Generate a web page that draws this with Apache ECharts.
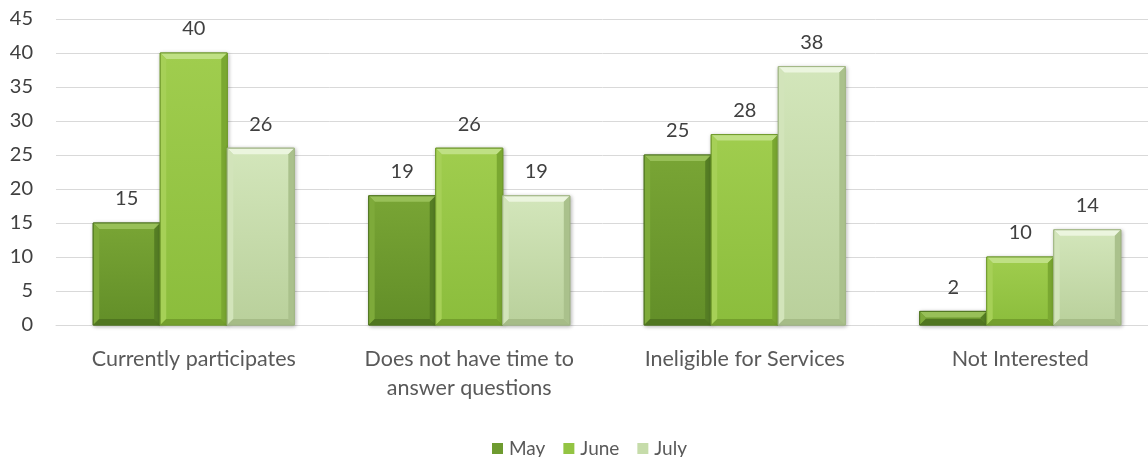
<!DOCTYPE html>
<html><head><meta charset="utf-8">
<script src="https://cdn.jsdelivr.net/npm/echarts@6/dist/echarts.min.js"></script>
<style>html,body{margin:0;padding:0;background:#fff}#c{width:1148px;height:457px}</style>
</head><body><div id="c"></div>
<script>
const categories = ['Currently participates', 'Does not have time to\nanswer questions', 'Ineligible for Services', 'Not Interested'];
const seriesNames = ['May', 'June', 'July'];
const mayValues = [15, 19, 25, 2];
const juneValues = [40, 26, 28, 10];
const julyValues = [26, 19, 38, 14];
const yTicks = {min: 0, max: 45, interval: 5};

const FONT = 'Lato, "Open Sans", sans-serif';
const dataSets = [mayValues, juneValues, julyValues];
const palettes = [
  {face: '#6e9b30', faceTop: '#79a535', faceBot: '#628e28', top: '#98c058', left: '#7eaa3a', right: '#557e24', bottom: '#507620', border: '#4f7420'},
  {face: '#93c443', faceTop: '#a0cd4e', faceBot: '#8bbd3c', top: '#bfe084', left: '#a6d057', right: '#7aa831', bottom: '#749f2d', border: '#6f992c'},
  {face: '#c6dcaa', faceTop: '#d3e6bb', faceBot: '#b9d09b', top: '#ebf5de', left: '#d2e4ba', right: '#aac18c', bottom: '#a6bc87', border: '#a0b684'}
];

function makeRender(i) {
  const p = palettes[i];
  return function (params, api) {
    const cat = api.value(0), val = api.value(1);
    const base = api.coord([cat, 0]);
    const topPt = api.coord([cat, val]);
    const band = api.size([1, 0])[0];
    const bw = band * 0.73 / 3;
    const x = base[0] - 1.5 * bw + i * bw;
    const y = topPt[1];
    const h = base[1] - topPt[1];
    const w = bw;
    const b = Math.min(6, h / 2, w / 2);
    const children = [
      {type: 'rect', shape: {x: x, y: y, width: w, height: h},
        style: {fill: new echarts.graphic.LinearGradient(0, 0, 0, 1, [{offset: 0, color: p.faceTop}, {offset: 1, color: p.faceBot}]),
          stroke: p.border, lineWidth: 1, shadowBlur: 4, shadowColor: 'rgba(0,0,0,0.3)', shadowOffsetX: 1, shadowOffsetY: 1}},
      {type: 'polygon', shape: {points: [[x, y], [x + w, y], [x + w - b, y + b], [x + b, y + b]]}, style: {fill: p.top}},
      {type: 'polygon', shape: {points: [[x, y], [x + b, y + b], [x + b, y + h - b], [x, y + h]]}, style: {fill: p.left}},
      {type: 'polygon', shape: {points: [[x + w, y], [x + w, y + h], [x + w - b, y + h - b], [x + w - b, y + b]]}, style: {fill: p.right}},
      {type: 'polygon', shape: {points: [[x, y + h], [x + w, y + h], [x + w - b, y + h - b], [x + b, y + h - b]]}, style: {fill: p.bottom}},
      {type: 'rect', shape: {x: x, y: y, width: w, height: h}, style: {fill: 'none', stroke: p.border, lineWidth: 1}},
      {type: 'text', style: {text: String(val), x: x + w / 2, y: y - 14, align: 'center', verticalAlign: 'bottom',
        fill: '#404040', font: '20px ' + FONT}}
    ];
    return {type: 'group', children: children};
  };
}

const chart = echarts.init(document.getElementById('c'), null, {renderer: 'canvas'});
chart.setOption({
  animation: false,
  textStyle: {fontFamily: FONT},
  grid: {left: 56, width: 1102, top: 19, bottom: 132, containLabel: false, outerBoundsMode: 'none'},
  legend: {
    top: 439, left: 492, itemWidth: 11, itemHeight: 11, itemGap: 18, padding: 0,
    icon: 'rect',
    textStyle: {fontSize: 19, color: '#595959', fontFamily: FONT, padding: [0, 0, 0, 1]},
    data: seriesNames
  },
  xAxis: {
    type: 'category', data: categories,
    axisLine: {lineStyle: {color: '#d9d9d9', width: 1}},
    axisTick: {show: false},
    axisLabel: {fontSize: 21.5, color: '#595959', margin: 20, lineHeight: 29, interval: 0, fontFamily: FONT}
  },
  yAxis: {
    type: 'value', min: yTicks.min, max: yTicks.max, interval: yTicks.interval,
    axisLine: {show: false}, axisTick: {show: false},
    splitLine: {lineStyle: {color: '#d9d9d9', width: 1}},
    axisLabel: {fontSize: 20, color: '#404040', margin: 23, fontFamily: FONT}
  },
  series: seriesNames.map((name, i) => ({
    name, type: 'custom',
    itemStyle: {color: palettes[i].face},
    encode: {x: 0, y: 1},
    renderItem: makeRender(i),
    data: dataSets[i].map((v, k) => [k, v])
  }))
});
</script></body></html>
